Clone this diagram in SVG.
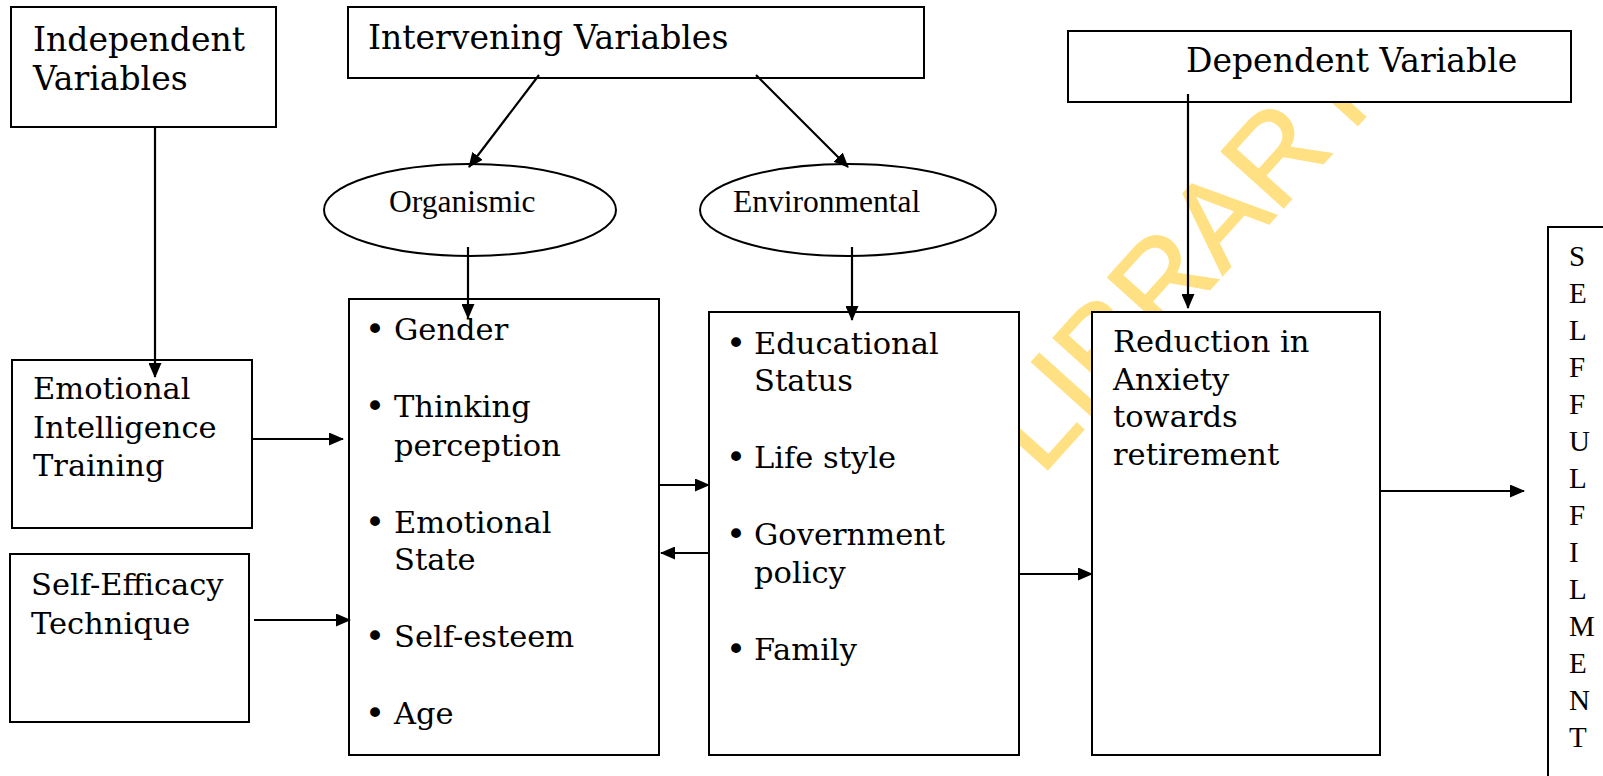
<svg xmlns="http://www.w3.org/2000/svg" width="1603" height="776" viewBox="0 0 1603 776">
<defs>
<marker id="ah" markerUnits="userSpaceOnUse" markerWidth="15" markerHeight="13" refX="14" refY="6.5" orient="auto">
<path d="M0,0 L15,6.5 L0,13 z" fill="#000"/>
</marker>
<style>
.box{fill:#fff;stroke:#000;stroke-width:2}
.t{font-family:"DejaVu Serif","Liberation Serif",serif;font-size:30.5px;fill:#000}
.h{font-family:"DejaVu Serif","Liberation Serif",serif;font-size:33px;fill:#000}
.tr{font-family:"Liberation Serif","Times New Roman",serif;font-size:31.5px;fill:#000}
.sf{font-family:"Liberation Serif","Times New Roman",serif;font-size:29px;fill:#000}
.b{font-family:"DejaVu Sans",sans-serif;font-size:34px;fill:#000}
.c{stroke:#000;stroke-width:2.2;fill:none;marker-end:url(#ah)}
.wm{font-family:"Liberation Sans",Arial,sans-serif;font-size:122px;fill:#FFE083;stroke:#FFE083;stroke-width:1.5}
</style>
</defs>
<rect width="1603" height="776" fill="#fff"/>
<g id="watermark">
<text class="wm" transform="translate(1041,477) rotate(-48)">LIBRARY</text>
</g>
<g id="independent">
<rect class="box" x="11" y="7" width="265" height="120"/>
<text class="h" x="33" y="51">Independent</text>
<text class="h" x="33" y="90">Variables</text>
</g>
<g id="intervening">
<rect class="box" x="348" y="7" width="576" height="71"/>
<text class="h" x="368" y="49">Intervening Variables</text>
</g>
<g id="dependent">
<rect class="box" x="1068" y="31" width="503" height="71"/>
<text class="h" x="1186" y="72">Dependent Variable</text>
</g>
<g id="organismic">
<ellipse class="box" cx="470" cy="210" rx="146" ry="46"/>
<text class="tr" x="389" y="212">Organismic</text>
</g>
<g id="environmental">
<ellipse class="box" cx="848" cy="210" rx="148" ry="46"/>
<text class="tr" x="733" y="212">Environmental</text>
</g>
<g id="eit">
<rect class="box" x="12" y="360" width="240" height="168"/>
<text class="t" x="33" y="399">Emotional</text>
<text class="t" x="33" y="438">Intelligence</text>
<text class="t" x="33" y="476">Training</text>
</g>
<g id="selfefficacy">
<rect class="box" x="10" y="554" width="239" height="168"/>
<text class="t" x="31" y="595">Self-Efficacy</text>
<text class="t" x="31" y="634">Technique</text>
</g>
<g id="organismic-list">
<rect class="box" x="349" y="299" width="310" height="456"/>
<text class="b" x="365" y="341">•</text><text class="t" x="394" y="340">Gender</text>
<text class="b" x="365" y="418">•</text><text class="t" x="394" y="417">Thinking</text>
<text class="t" x="394" y="456">perception</text>
<text class="b" x="365" y="534">•</text><text class="t" x="394" y="533">Emotional</text>
<text class="t" x="394" y="570">State</text>
<text class="b" x="365" y="648">•</text><text class="t" x="394" y="647">Self-esteem</text>
<text class="b" x="365" y="725">•</text><text class="t" x="394" y="724">Age</text>
</g>
<g id="environmental-list">
<rect class="box" x="709" y="312" width="310" height="443"/>
<text class="b" x="726" y="355">•</text><text class="t" x="754" y="354">Educational</text>
<text class="t" x="754" y="391">Status</text>
<text class="b" x="726" y="469">•</text><text class="t" x="754" y="468">Life style</text>
<text class="b" x="726" y="546">•</text><text class="t" x="754" y="545">Government</text>
<text class="t" x="754" y="583">policy</text>
<text class="b" x="726" y="661">•</text><text class="t" x="754" y="660">Family</text>
</g>
<g id="reduction">
<rect class="box" x="1092" y="312" width="288" height="443"/>
<text class="t" x="1113" y="352">Reduction in</text>
<text class="t" x="1113" y="390">Anxiety</text>
<text class="t" x="1113" y="427">towards</text>
<text class="t" x="1113" y="465">retirement</text>
</g>
<g id="selffulfilment">
<rect class="box" x="1548" y="227" width="80" height="600"/>
<text class="sf"><tspan x="1569" y="266">S</tspan><tspan x="1569" y="303">E</tspan><tspan x="1569" y="340">L</tspan><tspan x="1569" y="377">F</tspan><tspan x="1569" y="414">F</tspan><tspan x="1569" y="451">U</tspan><tspan x="1569" y="488">L</tspan><tspan x="1569" y="525">F</tspan><tspan x="1569" y="562">I</tspan><tspan x="1569" y="599">L</tspan><tspan x="1569" y="636">M</tspan><tspan x="1569" y="673">E</tspan><tspan x="1569" y="710">N</tspan><tspan x="1569" y="747">T</tspan></text>
</g>
<g id="connectors">
<line class="c" x1="155" y1="127" x2="155" y2="377"/>
<line class="c" x1="539" y1="75" x2="469" y2="167"/>
<line class="c" x1="756" y1="75" x2="848" y2="167"/>
<line class="c" x1="468" y1="247" x2="468" y2="318"/>
<line class="c" x1="852" y1="247" x2="852" y2="320"/>
<line class="c" x1="1188" y1="94" x2="1188" y2="308"/>
<line class="c" x1="252" y1="439" x2="343" y2="439"/>
<line class="c" x1="254" y1="620" x2="350" y2="620"/>
<line class="c" x1="659" y1="485" x2="709" y2="485"/>
<line class="c" x1="709" y1="553" x2="661" y2="553"/>
<line class="c" x1="1019" y1="574" x2="1092" y2="574"/>
<line class="c" x1="1380" y1="491" x2="1524" y2="491"/>
</g>
</svg>
